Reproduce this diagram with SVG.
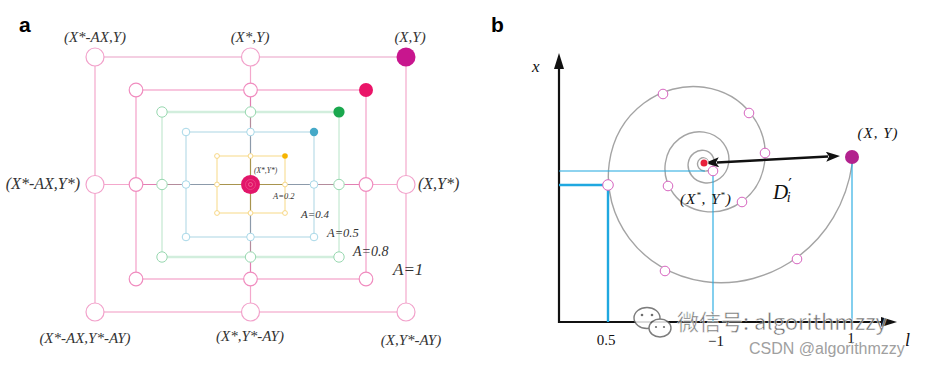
<svg xmlns="http://www.w3.org/2000/svg" width="927" height="366" viewBox="0 0 927 366">
<defs>
<style>
.lbl{font-family:"Liberation Serif","DejaVu Serif",serif;font-style:italic;fill:#333}
.pl{font-family:"Liberation Sans",Arial,sans-serif;font-weight:bold;font-size:21px;fill:#000}
.tick{font-family:"Liberation Serif","DejaVu Serif",serif;font-size:15px;fill:#111}
.c1{fill:#fff;stroke:#f2a2cb;stroke-width:1.2}
.c8{fill:#fff;stroke:#f08cbf;stroke-width:1.2}
.c5{fill:#fff;stroke:#98d8b0;stroke-width:1}
.c4{fill:#fff;stroke:#a8d8e8;stroke-width:1}
.c2{fill:#fff;stroke:#f6d47a;stroke-width:0.9}
.sp{fill:#fff;stroke:#d664bf;stroke-width:1}
.blue{stroke:#1fa8e0;fill:none}
</style>
<marker id="ah" viewBox="0 0 14 10" refX="2" refY="5" markerWidth="14" markerHeight="10" markerUnits="userSpaceOnUse" orient="auto-start-reverse"><path d="M0,0 L14,5 L0,10 L3,5 z" fill="#111"/></marker>
<marker id="axh" viewBox="0 0 16 10" refX="2" refY="5" markerWidth="16" markerHeight="10" markerUnits="userSpaceOnUse" orient="auto-start-reverse"><path d="M0,0 L16,5 L0,10 z" fill="#111"/></marker>
</defs>
<rect width="927" height="366" fill="#fff"/>
<text class="pl" x="19" y="32">a</text>
<text class="pl" x="491" y="32">b</text>

<!-- Panel a connectors -->
<g id="connectors-a" fill="none">
<rect x="95" y="57" width="311" height="255" stroke="#f4a8cc" stroke-width="1.2"/>
<line x1="95" y1="57" x2="406" y2="57" stroke="#f4cfe2" stroke-width="2.2"/>
<rect x="136" y="90" width="230" height="189" stroke="#f4a0c8" stroke-width="1.2"/>
<rect x="162" y="112" width="177" height="145" stroke="#b8e4c8" stroke-width="1"/>
<line x1="162" y1="112" x2="339" y2="112" stroke="#d2eedd" stroke-width="2.4"/>
<line x1="162" y1="257" x2="339" y2="257" stroke="#d2eedd" stroke-width="2.4"/>
<rect x="186" y="132" width="128" height="105" stroke="#c4e2ec" stroke-width="1.4"/>
<rect x="217" y="156" width="68" height="57" stroke="#f8e09c" stroke-width="1.2"/>
<g stroke-width="1.2">
<path d="M95,184.5 H136 M366,184.5 H406 M250.5,57 V90 M250.5,279 V312" stroke="#f4a8cc"/>
<path d="M136,184.5 H162 M339,184.5 H366 M250.5,90 V112 M250.5,257 V279" stroke="#e27fb2"/>
<path d="M162,184.5 H186 M314,184.5 H339 M250.5,112 V132 M250.5,237 V257" stroke="#b48c9c"/>
<path d="M186,184.5 H217 M285,184.5 H314 M250.5,132 V156 M250.5,213 V237" stroke="#8c9aaa"/>
<path d="M217,184.5 H285 M250.5,156 V213" stroke="#a8944e"/>
</g>
</g>

<!-- A=1 nodes -->
<g id="n1-tl"><circle class="c1" cx="95" cy="57" r="9"/></g>
<g id="n1-tm"><circle class="c1" cx="250.5" cy="57" r="9"/></g>
<g id="n1-tr"><circle cx="406" cy="57" r="9.5" fill="#c8168e"/></g>
<g id="n1-ml"><circle class="c1" cx="95" cy="184.5" r="9"/></g>
<g id="n1-mr"><circle class="c1" cx="406" cy="184.5" r="9"/></g>
<g id="n1-bl"><circle class="c1" cx="95" cy="312" r="9"/></g>
<g id="n1-bm"><circle class="c1" cx="250.5" cy="312" r="9"/></g>
<g id="n1-br"><circle class="c1" cx="406" cy="312" r="9"/></g>
<!-- A=0.8 nodes -->
<g id="n8-tl"><circle class="c8" cx="136" cy="90" r="6.8"/></g>
<g id="n8-tm"><circle class="c8" cx="250.5" cy="90" r="6.8"/></g>
<g id="n8-tr"><circle cx="366" cy="90" r="7" fill="#ea1468"/></g>
<g id="n8-ml"><circle class="c8" cx="136" cy="184.5" r="6.8"/></g>
<g id="n8-mr"><circle class="c8" cx="366" cy="184.5" r="6.8"/></g>
<g id="n8-bl"><circle class="c8" cx="136" cy="279" r="6.8"/></g>
<g id="n8-bm"><circle class="c8" cx="250.5" cy="279" r="6.8"/></g>
<g id="n8-br"><circle class="c8" cx="366" cy="279" r="6.8"/></g>
<!-- A=0.5 nodes -->
<g id="n5-tl"><circle class="c5" cx="162" cy="112" r="5.2"/></g>
<g id="n5-tm"><circle class="c5" cx="250.5" cy="112" r="5.2"/></g>
<g id="n5-tr"><circle cx="339" cy="112" r="5.6" fill="#1aa84e"/></g>
<g id="n5-ml"><circle class="c5" cx="162" cy="184.5" r="5.2"/></g>
<g id="n5-mr"><circle class="c5" cx="339" cy="184.5" r="5.2"/></g>
<g id="n5-bl"><circle class="c5" cx="162" cy="257" r="5.2"/></g>
<g id="n5-bm"><circle class="c5" cx="250.5" cy="257" r="5.2"/></g>
<g id="n5-br"><circle class="c5" cx="339" cy="257" r="5.2"/></g>
<!-- A=0.4 nodes -->
<g id="n4-tl"><circle class="c4" cx="186" cy="132" r="3.8"/></g>
<g id="n4-tm"><circle class="c4" cx="250.5" cy="132" r="3.8"/></g>
<g id="n4-tr"><circle cx="314" cy="132" r="4.2" fill="#45a9c8"/></g>
<g id="n4-ml"><circle class="c4" cx="186" cy="184.5" r="3.8"/></g>
<g id="n4-mr"><circle class="c4" cx="314" cy="184.5" r="3.8"/></g>
<g id="n4-bl"><circle class="c4" cx="186" cy="237" r="3.8"/></g>
<g id="n4-bm"><circle class="c4" cx="250.5" cy="237" r="3.8"/></g>
<g id="n4-br"><circle class="c4" cx="314" cy="237" r="3.8"/></g>
<!-- A=0.2 nodes -->
<g id="n2-tl"><circle class="c2" cx="217" cy="156" r="2.4"/></g>
<g id="n2-tm"><circle class="c2" cx="250.5" cy="156" r="2.4"/></g>
<g id="n2-tr"><circle cx="285" cy="156" r="2.8" fill="#f6b400"/></g>
<g id="n2-ml"><circle class="c2" cx="217" cy="184.5" r="2.4"/></g>
<g id="n2-mr"><circle class="c2" cx="285" cy="184.5" r="2.4"/></g>
<g id="n2-bl"><circle class="c2" cx="217" cy="213" r="2.4"/></g>
<g id="n2-bm"><circle class="c2" cx="250.5" cy="213" r="2.4"/></g>
<g id="n2-br"><circle class="c2" cx="285" cy="213" r="2.4"/></g>
<!-- center -->
<g id="n-center">
<circle cx="250.5" cy="184.5" r="9.5" fill="#e2166a"/>
<circle cx="250.5" cy="184.5" r="5" fill="none" stroke="#f05890" stroke-width="0.6"/>
<circle cx="250.5" cy="184.5" r="2" fill="none" stroke="#f88aa8" stroke-width="0.6"/>
</g>

<!-- Panel a labels -->
<g id="labels-a" class="lbl">
<text x="95" y="42" font-size="15" text-anchor="middle">(X*-AX,Y)</text>
<text x="250" y="42" font-size="15" text-anchor="middle">(X*,Y)</text>
<text x="410" y="42" font-size="15" text-anchor="middle">(X,Y)</text>
<text x="80" y="189" font-size="16" text-anchor="end">(X*-AX,Y*)</text>
<text x="418" y="189" font-size="16">(X,Y*)</text>
<text x="85" y="343" font-size="15" text-anchor="middle">(X*-AX,Y*-AY)</text>
<text x="250" y="341" font-size="15" text-anchor="middle">(X*,Y*-AY)</text>
<text x="411" y="345" font-size="15" text-anchor="middle">(X,Y*-AY)</text>
<text x="254" y="173" font-size="7.5">(X*,Y*)</text>
<text x="273" y="199" font-size="8.5">A=0.2</text>
<text x="301" y="218" font-size="11">A=0.4</text>
<text x="327" y="237" font-size="12.5">A=0.5</text>
<text x="353" y="256" font-size="14">A=0.8</text>
<text x="393" y="275" font-size="17">A=1</text>
</g>

<!-- Panel b connectors -->
<g id="connectors-b">
<path d="M559,67 L559,322 L883,322" fill="none" stroke="#111" stroke-width="2.2" marker-start="url(#axh)" marker-end="url(#axh)"/>
<path d="M708.11,163 C708.43,160.73 706.84,158.27 704,157.86 C701.16,157.46 698.08,159.45 697.57,163 C697.06,166.55 699.55,170.42 704,171.05 C708.45,171.68 713.28,168.56 714.07,163 C714.86,157.44 710.96,151.39 704,150.4 C697.04,149.41 689.48,154.3 688.24,163 C687,171.7 693.11,181.17 704,182.72 C714.89,184.27 726.74,176.63 728.68,163 C730.63,149.37 721.06,134.55 704,132.12 C686.95,129.69 668.41,141.66 665.36,163 C662.32,184.34 677.3,207.54 704,211.35 C730.7,215.16 759.73,196.41 764.5,163 C769.27,129.59 745.81,93.27 704,87.3 C662.19,81.34 616.74,110.68 609.27,163 C601.81,215.32 638.54,272.19 704,281.53 C769.46,290.87 840.62,244.91 852.31,163" fill="none" stroke="#a4a4a4" stroke-width="1.4"/>
<path class="blue" d="M559,185 H608 V322" stroke-width="2.4"/>
<path class="blue" d="M559,171 H705 M713,171 V322 M852,157 V322" stroke-width="1.1"/>
<line x1="716.98" y1="162.38" x2="828.02" y2="156.62" stroke="#111" stroke-width="2.5" marker-start="url(#ah)" marker-end="url(#ah)"/>
</g>

<!-- Panel b nodes -->
<g id="p-xy"><circle cx="852" cy="157" r="7" fill="#b2228e"/></g>
<g id="p-center"><circle cx="704" cy="163" r="4.5" fill="#fff"/><circle cx="704" cy="163" r="3.5" fill="#e8203c"/></g>
<g id="p1"><circle class="sp" cx="663" cy="94" r="4.8"/></g>
<g id="p2"><circle class="sp" cx="749" cy="113" r="4.8"/></g>
<g id="p3"><circle class="sp" cx="765" cy="153" r="4.8"/></g>
<g id="p4"><circle class="sp" cx="713" cy="171" r="4.8"/></g>
<g id="p5"><circle class="sp" cx="668" cy="186" r="4.8"/></g>
<g id="p6"><circle class="sp" cx="742" cy="202" r="4.8"/></g>
<g id="p7"><circle class="sp" cx="608" cy="185" r="5.3"/></g>
<g id="p8"><circle class="sp" cx="665" cy="271" r="4.8"/></g>
<g id="p9"><circle class="sp" cx="797" cy="259" r="4.8"/></g>

<!-- Panel b labels -->
<g id="labels-b">
<text x="532" y="72" font-family="Liberation Serif,DejaVu Serif,serif" font-style="italic" font-size="17" fill="#111">x</text>
<text x="905" y="346" font-family="Liberation Serif,DejaVu Serif,serif" font-style="italic" font-size="18" fill="#111">l</text>
<text x="878" y="138" text-anchor="middle" font-family="Liberation Serif,DejaVu Serif,serif" font-style="italic" font-size="15" letter-spacing="1" fill="#111">(X, Y)</text>
<text x="680" y="204" font-family="Liberation Serif,DejaVu Serif,serif" font-style="italic" font-size="15.5" letter-spacing="0.8" fill="#111">(X<tspan font-size="9" dy="-6">*</tspan><tspan dy="6">, Y</tspan><tspan font-size="9" dy="-6">*</tspan><tspan dy="6">)</tspan></text>
<text x="773" y="199" font-family="Liberation Serif,DejaVu Serif,serif" font-style="italic" font-size="21" fill="#111">D<tspan font-family="DejaVu Serif,serif" font-style="normal" font-size="16" dx="0" dy="-9">′</tspan><tspan font-size="14" dx="-5" dy="12">i</tspan></text>
<text class="tick" x="606" y="345" text-anchor="middle">0.5</text>
<text class="tick" x="716" y="346" text-anchor="middle">−1</text>
<text class="tick" x="851" y="343" text-anchor="middle">1</text>
</g>

<!-- watermark -->
<g id="watermark" opacity="0.85">
<ellipse cx="647" cy="318" rx="13" ry="10.5" fill="#fff" stroke="#666" stroke-width="1.4"/>
<ellipse cx="660" cy="328" rx="11" ry="9" fill="#fff" stroke="#666" stroke-width="1.4"/>
<circle cx="642" cy="315" r="1.3" fill="#555"/><circle cx="652" cy="315" r="1.3" fill="#555"/>
<circle cx="656" cy="327" r="1.1" fill="#555"/><circle cx="664" cy="327" r="1.1" fill="#555"/>
<text x="677" y="330" font-family="Noto Sans CJK SC,Liberation Sans,sans-serif" font-size="22" fill="#555" stroke="#fff" stroke-width="0.5">微信号: algorithmzzy</text>
</g>
<text x="749" y="354" font-family="Liberation Sans,Arial,sans-serif" font-size="16" fill="#a0a0a0">CSDN @algorithmzzy</text>
</svg>
